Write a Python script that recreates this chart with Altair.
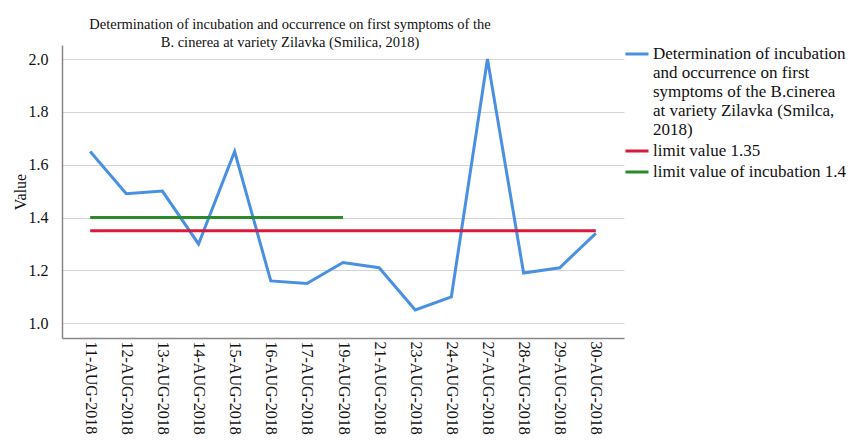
import altair as alt
import pandas as pd

dates = ["11-AUG-2018", "12-AUG-2018", "13-AUG-2018", "14-AUG-2018", "15-AUG-2018",
         "16-AUG-2018", "17-AUG-2018", "19-AUG-2018", "21-AUG-2018", "23-AUG-2018",
         "24-AUG-2018", "27-AUG-2018", "28-AUG-2018", "29-AUG-2018", "30-AUG-2018"]
values = [1.65, 1.49, 1.50, 1.30, 1.65, 1.16, 1.15, 1.23, 1.21, 1.05, 1.10, 2.00, 1.19, 1.21, 1.34]
limit_value = 1.35
incubation_value = 1.4
incubation_dates = dates[:8]

s_main = "Determination of incubation|and occurrence on first|symptoms of the B.cinerea|at variety Zilavka (Smilca,|2018)"
s_limit = "limit value 1.35"
s_inc = "limit value of incubation 1.4"
series_names = [s_main, s_limit, s_inc]
series_colors = ["#4a90e2", "#d81b3c", "#2b8a2b"]

y_ticks = [1.0, 1.2, 1.4, 1.6, 1.8, 2.0]

rows = []
for d, v in zip(dates, values):
    rows.append({"date": d, "value": v, "series": s_main})
for d in dates:
    rows.append({"date": d, "value": limit_value, "series": s_limit})
for d in incubation_dates:
    rows.append({"date": d, "value": incubation_value, "series": s_inc})
df = pd.DataFrame(rows)

FONT = "Liberation Serif"

chart = alt.Chart(
    df,
    title=alt.Title(
        ["Determination of incubation and occurrence on first symptoms of the",
         "B. cinerea at variety Zilavka (Smilica, 2018)"],
        font=FONT, fontSize=14.5, fontWeight="normal", color="#111111",
        anchor="middle", dx=-53, dy=10, offset=1, lineHeight=18, frame="group",
    ),
).mark_line(strokeWidth=3).encode(
    x=alt.X("date:N", sort=dates,
            scale=alt.Scale(type="point", padding=0.78),
            axis=alt.Axis(title=None, labelAngle=90, ticks=False, grid=False,
                          labelFont=FONT, labelFontSize=16, labelColor="#111111",
                          labelPadding=3, domainColor="#888888", domainWidth=1.5,
                          labelOverlap=False)),
    y=alt.Y("value:Q",
            scale=alt.Scale(domain=[0.944, 2.053], nice=False, zero=False),
            axis=alt.Axis(title="Value", values=y_ticks, format=".1f", ticks=False,
                          labelFont=FONT, labelFontSize=16, labelColor="#111111",
                          labelPadding=14, titleFont=FONT, titleFontSize=16,
                          titleFontWeight="normal", titleColor="#111111", titlePadding=0,
                          domainColor="#888888", domainWidth=1.5,
                          gridColor="#d4d4d4", gridWidth=1.2)),
    color=alt.Color("series:N",
                    scale=alt.Scale(domain=series_names, range=series_colors),
                    sort=series_names,
                    legend=alt.Legend(title=None, orient="none", legendX=562, legendY=-4,
                                      symbolType="stroke", symbolSize=529,
                                      symbolStrokeWidth=3, labelFont=FONT,
                                      labelFontSize=17, labelColor="#111111",
                                      labelLimit=400, labelOffset=3, rowPadding=0,
                                      labelExpr="split(datum.label, '|')")),
).properties(
    width=562, height=293,
    autosize=alt.AutoSizeParams(type="none"),
    padding={"left": 54, "top": 37, "right": 226, "bottom": 99},
).configure_view(stroke=None)

chart.save("out.html", embed_options={"renderer": "svg", "actions": False})
